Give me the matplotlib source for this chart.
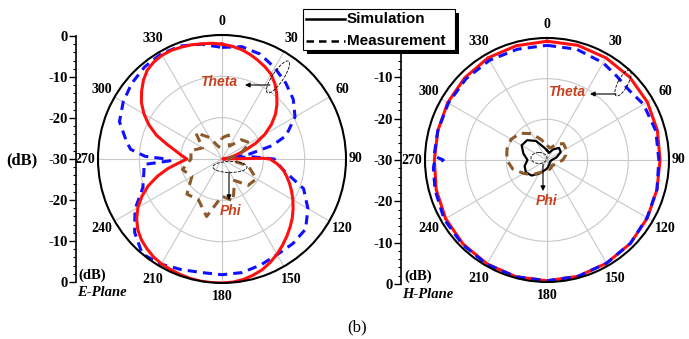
import numpy as np
import matplotlib
matplotlib.use("Agg")
import matplotlib.pyplot as plt
from matplotlib.patches import Ellipse, Rectangle
from matplotlib.lines import Line2D

plt.rcParams['font.family'] = ['Liberation Serif', 'DejaVu Serif']
plt.rcParams['font.weight'] = 'bold'

# ---------------- data (dB) ----------------
# E-plane, Theta simulation (red solid)
e_sim_theta_ang = [0, 5, 10, 15, 20, 25, 30, 35, 40, 45, 50, 55, 60, 65, 70, 75, 80, 85, 88, 89,
                   90, 95, 100, 105, 110, 115, 120, 125, 130, 135, 140, 145, 150, 155, 160, 165,
                   170, 175, 180, 185, 190, 195, 200, 205, 210, 215, 220, 225, 230, 235, 240,
                   245, 250, 255, 260, 265, 270, 275, 280, 285, 290, 295, 300, 305, 310, 315,
                   320, 325, 330, 335, 340, 345, 350, 355, 360]
e_sim_theta_db = [-2.2, -2.6, -3.1, -3.8, -4.6, -5.4, -6.3, -7.7, -9.4, -11.2, -13.1, -15.4, -18.0,
                  -21.0, -24.4, -26.8, -28.2, -29.3, -29.8, -20.0, -18.4, -16.6, -15.0, -13.8,
                  -12.6, -11.4, -10.2, -9.0, -7.8, -6.7, -5.6, -4.5, -3.4, -2.4, -1.5, -0.9, -0.4,
                  -0.1, 0.0, 0.0, 0.0, -0.1, -0.3, -0.5, -0.7, -1.1, -1.7, -2.4, -3.4, -4.8, -6.5,
                  -8.6, -11.0, -13.8, -16.7, -19.6, -21.5, -20.2, -18.6, -16.2, -13.1, -10.5,
                  -8.2, -6.2, -4.6, -3.1, -1.9, -1.3, -1.0, -1.0, -1.2, -1.4, -1.7, -1.9, -2.2]
# E-plane, Theta measurement (blue dashed)
e_meas_theta_ang = [0, 10, 20, 30, 40, 50, 60, 70, 75, 80, 83, 86, 90, 100, 110, 120, 130, 140, 150,
                    160, 170, 180, 190, 200, 210, 220, 230, 240, 250, 260, 266, 268, 270, 272,
                    276, 280, 290, 300, 310, 320, 330, 340, 350, 360]
e_meas_theta_db = [-3.0, -2.4, -3.0, -4.5, -6.0, -7.5, -9.6, -13.5, -17.4, -23.4, -27.6, -22.5, -17.4,
                   -15.0, -9.0, -6.0, -3.6, -3.3, -3.3, -2.7, -2.1, -2.0, -2.1, -1.5, -0.6, 0.0,
                   -2.4, -5.7, -9.6, -10.8, -11.1, -17.4, -16.5, -11.4, -7.8, -6.6, -3.6, -2.4,
                   -1.5, -0.9, -0.6, -0.9, -1.8, -3.0]
# E-plane, Phi measurement (brown dashed)
e_meas_phi_ang = list(range(0, 361, 15))
e_meas_phi_db = [-24.9, -24.0, -26.4, -23.4, -22.2, -25.5, -28.5, -23.4, -20.4, -21.0, -24.0, -19.5,
                 -21.0, -15.6, -18.6, -18.0, -21.6, -20.1, -22.5, -22.2, -24.6, -21.0, -24.0, -27.0,
                 -24.9]

# H-plane, Theta simulation (red solid)
h_sim_theta_ang = list(range(0, 361, 15))
h_sim_theta_db = [-0.8, -0.8, -1.0, -1.2, -1.5, -1.9, -2.2, -2.0, -1.5, -1.0, -0.7, -0.4, -0.3,
                  -0.3, -0.5, -0.8, -1.2, -1.8, -2.3, -2.2, -1.8, -1.4, -1.0, -0.9, -0.8]
# H-plane, Theta measurement (blue dashed)
h_meas_theta_ang = [0, 15, 30, 40, 50, 60, 75, 90, 105, 120, 135, 150, 165, 180, 195, 210, 225,
                    240, 255, 266, 268, 270, 272, 285, 300, 315, 330, 345, 360]
h_meas_theta_db = [-1.8, -1.8, -2.4, -3.2, -3.5, -2.6, -2.3, -2.5, -2.0, -1.6, -1.0, -0.7, -0.4,
                   -0.3, -0.3, -0.4, -0.6, -0.8, -1.5, -2.0, -2.2, -4.5, -2.2, -2.2, -2.0, -1.8,
                   -1.7, -1.8, -1.8]
# H-plane, Phi simulation (black solid)
h_sim_phi_ang = list(range(0, 361, 15))
h_sim_phi_db = [-27.6, -28.2, -27.0, -25.8, -26.1, -27.6, -28.8, -29.1, -29.1, -29.1, -28.8, -28.5,
                -27.9, -27.3, -26.1, -24.6, -24.0, -24.3, -25.2, -24.0, -22.8, -23.1, -24.6, -26.7,
                -27.6]
# H-plane, Phi measurement (brown dashed)
h_meas_phi_ang = list(range(0, 361, 15))
h_meas_phi_db = [-26.4, -27.0, -25.5, -24.3, -24.6, -25.2, -26.1, -27.3, -27.6, -28.2, -27.9, -27.6,
                 -27.6, -27.0, -26.4, -24.9, -23.4, -21.3, -20.1, -19.8, -19.8, -20.7, -22.5, -24.9,
                 -26.4]

angle_labels = ['0', '30', '60', '90', '120', '150', '180', '210', '240', '270', '300', '330']
scale_ticks = [-30, -20, -10, 0, 10, 20, 30]

RED = '#ff1010'
BLUE = '#1010ff'
BROWN = '#8b5a2b'
ANN = '#c8401e'

W, H = 689, 339
fig = plt.figure(figsize=(W / 100, H / 100), dpi=100)


def polar_ax(cx, cy, R):
    ax = fig.add_axes([(cx - R) / W, (H - cy - R) / H, 2 * R / W, 2 * R / H], projection='polar')
    ax.set_theta_zero_location('N')
    ax.set_theta_direction(-1)
    ax.set_ylim(0, 30)
    ax.set_yticks([10, 20])
    ax.set_yticklabels([])
    ax.set_xticks(np.deg2rad(np.arange(0, 360, 30)))
    ax.set_xticklabels([])
    ax.set_xticks(np.deg2rad(np.arange(15, 360, 30)), minor=True)
    ax.grid(True, color='#c8c8c8', lw=0.8)
    ax.tick_params(axis='x', which='both', direction='in', length=4, width=0.8)
    ax.spines['polar'].set_linewidth(1.5)
    for lab in angle_labels:
        a = int(lab)
        th = np.deg2rad(a)
        if a == 90:
            ax.text(th, 30.6, lab, ha='left', va='center', fontsize=10, clip_on=False)
        elif a == 270:
            ax.text(th, 30.6, lab, ha='right', va='center', fontsize=10, clip_on=False)
        elif a in (0, 180):
            ax.text(th, 33.2, lab, ha='center', va='center', fontsize=10, clip_on=False)
        else:
            ax.text(th, 33.7, lab, ha='center', va='center', fontsize=10, clip_on=False)
    return ax


def scale_ax(x, ytop, ybot, hide_top=False):
    a = fig.add_axes([x / W, (H - ybot) / H, 0.0001, (ybot - ytop) / H])
    a.set_ylim(-30, 30)
    a.set_xlim(0, 1)
    for s in ['top', 'right', 'bottom']:
        a.spines[s].set_visible(False)
    a.spines['left'].set_linewidth(1.2)
    a.set_xticks([])
    a.set_yticks(scale_ticks)
    labels = [str(abs(v) - 30) for v in scale_ticks]
    if hide_top:
        labels[-1] = ''
    a.set_yticklabels(labels)
    a.set_yticks(range(-30, 31, 2), minor=True)
    a.tick_params(axis='y', which='major', length=5, width=1, direction='out', labelsize=10.5, pad=1)
    a.tick_params(axis='y', which='minor', length=2.5, width=0.8, direction='out')
    a.patch.set_alpha(0)
    return a


def r(db):
    return np.array(db) + 30


axL = polar_ax(222, 159, 124)
axL.plot(np.deg2rad(e_meas_theta_ang), r(e_meas_theta_db), color=BLUE, lw=2.2, ls=(0, (3, 2)))
axL.plot(np.deg2rad(e_sim_theta_ang), r(e_sim_theta_db), color=RED, lw=2.2)
axL.plot(np.deg2rad(e_meas_phi_ang), r(e_meas_phi_db), color=BROWN, lw=2.2, ls=(0, (3, 2)))

axR = polar_ax(547, 160, 122)
axR.plot(np.deg2rad(h_sim_theta_ang), r(h_sim_theta_db), color=RED, lw=2.2)
axR.plot(np.deg2rad(h_meas_theta_ang), r(h_meas_theta_db), color=BLUE, lw=2.2, ls=(0, (3, 2)))
axR.plot(np.deg2rad(h_sim_phi_ang), r(h_sim_phi_db), color='k', lw=1.6)
axR.plot(np.deg2rad(h_meas_phi_ang), r(h_meas_phi_db), color=BROWN, lw=2.2, ls=(0, (3, 2)))

scale_ax(76, 36, 282)
scale_ax(401, 36, 284, hide_top=True)

# ---------------- overlay: labels, annotations, legend ----------------
ov = fig.add_axes([0, 0, 1, 1], zorder=20)
ov.set_xlim(0, W)
ov.set_ylim(H, 0)
ov.axis('off')
ov.patch.set_alpha(0)

ov.text(22, 160, '(dB)', ha='center', va='center', fontsize=12)
ov.text(78, 275, '(dB)', ha='left', va='center', fontsize=10.5)
ov.text(77, 293, 'E-Plane', ha='left', va='center', fontsize=10.5, style='italic')
ov.text(404, 276, '(dB)', ha='left', va='center', fontsize=10.5)
ov.text(402, 295, 'H-Plane', ha='left', va='center', fontsize=10.5, style='italic')
ov.text(357, 327, '(b)', ha='center', va='center', fontsize=12, weight='normal')

sans = ['Liberation Sans', 'DejaVu Sans']
ov.text(219, 82, 'Theta', ha='center', va='center', fontsize=10, family=sans,
        style='italic', weight='bold', color=ANN)
ov.text(231, 211, 'Phi', ha='center', va='center', fontsize=10, family=sans,
        style='italic', weight='bold', color=ANN)
ov.text(567, 92, 'Theta', ha='center', va='center', fontsize=10, family=sans,
        style='italic', weight='bold', color=ANN)
ov.text(547, 201, 'Phi', ha='center', va='center', fontsize=10, family=sans,
        style='italic', weight='bold', color=ANN)

ov.add_patch(Ellipse((278, 77), 38, 11, angle=-56, fill=False, ls='--', lw=0.6, ec='k'))
ov.add_patch(Ellipse((230, 167), 34, 11, angle=0, fill=False, ls='--', lw=0.6, ec='k'))
ov.add_patch(Ellipse((623, 83), 29, 10, angle=-62, fill=False, ls='--', lw=0.6, ec='k'))
ov.add_patch(Ellipse((539, 158), 16, 11, angle=0, fill=False, ls='--', lw=0.6, ec='k'))

arr = dict(arrowstyle='-|>', lw=0.8, color='k', mutation_scale=7, shrinkA=0, shrinkB=0)
ov.annotate('', xy=(245, 85), xytext=(270, 85), arrowprops=arr)
ov.annotate('', xy=(229, 200), xytext=(229, 172), arrowprops=arr)
ov.annotate('', xy=(590, 94), xytext=(616, 94), arrowprops=arr)
ov.annotate('', xy=(543, 191), xytext=(543, 164), arrowprops=arr)

# legend box with black shadow
ov.add_patch(Rectangle((307, 13), 152, 41, facecolor='k', edgecolor='k', lw=0))
ov.add_patch(Rectangle((303, 9), 152, 41, facecolor='white', edgecolor='k', lw=0.8))
ov.add_line(Line2D([306, 345], [18.5, 18.5], color='k', lw=1.8))
ov.add_line(Line2D([306, 345], [40.5, 40.5], color='k', lw=1.8, ls=(0, (3, 2))))
ov.text(347, 19, 'Simulation', ha='left', va='center', fontsize=11, family=sans, weight='bold')
ov.text(347, 41, 'Measurement', ha='left', va='center', fontsize=11, family=sans, weight='bold')

fig.savefig('out.png', dpi=100)
